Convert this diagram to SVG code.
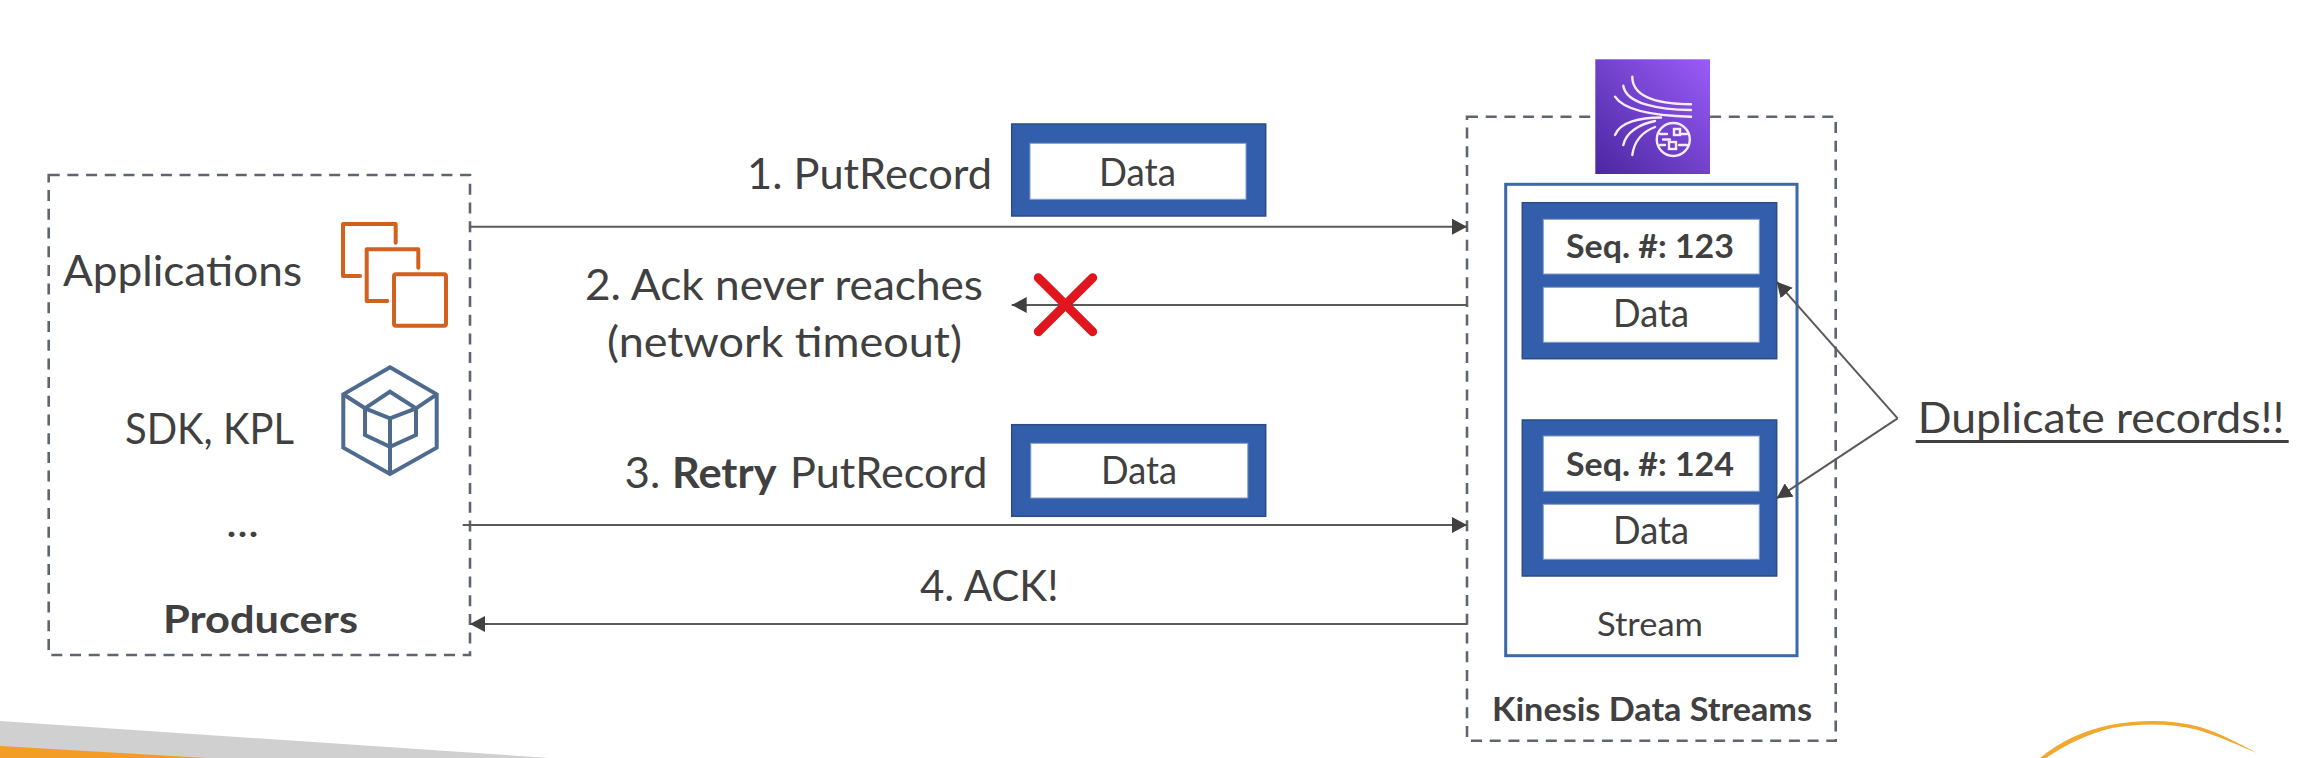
<svg xmlns="http://www.w3.org/2000/svg" width="2306" height="758" viewBox="0 0 2306 758">
<style>
text{font-family:"Lato","Noto Sans",sans-serif;fill:#404040;font-size:42px}
.b{font-weight:700}
.s32{font-size:32px}
.s38{font-size:38px}
.dash{fill:none;stroke:#5c6673;stroke-width:2.6;stroke-dasharray:11 7.7}
.stream{fill:#fff;stroke:#3a68a8;stroke-width:3}
.rec{fill:#335eab;stroke:#2b4c85;stroke-width:1.5}
.in{fill:#fff;stroke:#7f9cc8;stroke-width:1}
.con{fill:none;stroke:#5a5a5a;stroke-width:2;marker-end:url(#ah)}
.orange{fill:none;stroke:#d2601f;stroke-width:4;stroke-linejoin:round;stroke-linecap:round}
.hex{fill:none;stroke:#4f6a8f;stroke-width:4;stroke-linejoin:miter}
.w{fill:none;stroke:#f4ecfd;stroke-width:2.4;stroke-linecap:round}
</style>
<defs>
<marker id="ah" markerUnits="userSpaceOnUse" markerWidth="16" markerHeight="16" refX="15" refY="8" orient="auto"><path d="M0 0L15 8L0 16Z" fill="#404040"/></marker>
<linearGradient id="kg" x1="0" y1="1" x2="1" y2="0"><stop offset="0" stop-color="#4a27a0"/><stop offset="1" stop-color="#9a5cf8"/></linearGradient>
</defs>
<rect width="2306" height="758" fill="#fff"/>
<g id="background">
<path d="M0 721L549 758H0Z" fill="#d0d0d0"/>
<path d="M0 746L207 758H0Z" fill="#f39c26"/>
<path d="M2040 758C2060 741 2085 730 2110 725C2140 720 2170 719 2200 727C2220 733 2240 744 2257 753C2238 745 2218 736 2198 730C2170 723 2140 723 2112 728C2090 733 2065 745 2046 758Z" fill="#f0a830"/>
</g>
<g id="producers">
<rect class="dash" x="48.7" y="175" width="421.3" height="480"/>
<text x="63" y="286" textLength="239" lengthAdjust="spacingAndGlyphs">Applications</text>
<text x="125" y="444" textLength="169" lengthAdjust="spacingAndGlyphs">SDK, KPL</text>
<text x="226" y="537" textLength="33" lengthAdjust="spacingAndGlyphs">...</text>
<text class="b s38" x="163" y="633" textLength="195" lengthAdjust="spacingAndGlyphs">Producers</text>
<g id="applications-icon">
<path class="orange" d="M395.7 242.7V224H343V276H360"/>
<path class="orange" d="M418.3 267.7V249.3H366.7V301H387.3"/>
<rect class="orange" x="394" y="274.3" width="52" height="51.4" rx="2"/>
</g>
<g id="sdk-icon">
<path class="hex" d="M390 367.3L436.7 394.3V447.7L390 474L343.3 447.7V394.3Z"/>
<path class="hex" d="M390 391.7L416 408.3V435L390 446.7L365 435V408.3Z"/>
<path class="hex" d="M365 408.3L390 418.3L416 408.3M390 418.3V474M343.3 394.3L365 408.3M436.7 394.3L416 408.3"/>
</g>
</g>
<g id="kinesis">
<rect class="dash" x="1467" y="116.7" width="368.7" height="624"/>
<g id="kinesis-icon">
<rect x="1595.3" y="59.3" width="114.7" height="114.7" fill="url(#kg)"/>
<path class="w" d="M1632.3 76.7C1632.3 98 1660 104 1691 104.3"/>
<path class="w" d="M1623.3 85.7C1626 104 1660 110 1691 110"/>
<path class="w" d="M1615 96.7C1625 112 1660 116 1691 116.7"/>
<path class="w" d="M1661 117.5C1640 117.5 1620 122 1615 135"/>
<path class="w" d="M1655 121C1640 124 1626 132 1623.3 145"/>
<path class="w" d="M1655 127C1642 132 1634 142 1632.3 155"/>
<circle class="w" cx="1673.3" cy="139.5" r="16.5"/>
<path class="w" stroke-width="2" d="M1660 134H1667M1660 145H1665M1680 134H1687M1679 145H1687M1663 139.5H1670"/>
<rect class="w" x="1669" y="142" width="7" height="7"/>
<rect class="w" x="1674" y="129" width="6" height="6"/>
</g>
<text class="b s32" x="1492" y="721" textLength="320" lengthAdjust="spacingAndGlyphs">Kinesis Data Streams</text>
</g>
<g id="stream">
<rect class="stream" x="1505.7" y="184.3" width="291.3" height="471.4"/>
<text class="s32" x="1597" y="636" textLength="106" lengthAdjust="spacingAndGlyphs">Stream</text>
</g>
<g id="record-123">
<rect class="rec" x="1522.3" y="202.7" width="254.4" height="156"/>
<rect class="in" x="1543.3" y="219.3" width="216" height="54.7"/>
<rect class="in" x="1543.3" y="287.3" width="216" height="55"/>
<text class="b s32" x="1566" y="258" textLength="168" lengthAdjust="spacingAndGlyphs">Seq. #: 123</text>
<text class="s38" x="1613" y="327" textLength="76" lengthAdjust="spacingAndGlyphs">Data</text>
</g>
<g id="record-124">
<rect class="rec" x="1522.3" y="420" width="254.4" height="156"/>
<rect class="in" x="1543.3" y="436" width="216" height="55.3"/>
<rect class="in" x="1543.3" y="504.3" width="216" height="55"/>
<text class="b s32" x="1566" y="476" textLength="168" lengthAdjust="spacingAndGlyphs">Seq. #: 124</text>
<text class="s38" x="1613" y="544.3" textLength="76" lengthAdjust="spacingAndGlyphs">Data</text>
</g>
<g id="data-1">
<rect class="rec" x="1011.7" y="124" width="254" height="92"/>
<rect class="in" x="1030" y="143.3" width="216" height="56"/>
<text class="s38" x="1099" y="186" textLength="77" lengthAdjust="spacingAndGlyphs">Data</text>
</g>
<g id="data-2">
<rect class="rec" x="1011.7" y="424.7" width="254" height="91.6"/>
<rect class="in" x="1030.8" y="443.3" width="217" height="54.7"/>
<text class="s38" x="1101" y="484" textLength="76" lengthAdjust="spacingAndGlyphs">Data</text>
</g>
<g id="connectors">
<line class="con" x1="470" y1="226.7" x2="1467" y2="226.7"/>
<line class="con" x1="1467" y1="305" x2="1011.7" y2="305"/>
<line class="con" x1="462.7" y1="525" x2="1467" y2="525"/>
<line class="con" x1="1467" y1="624" x2="470" y2="624"/>
<line class="con" x1="1897.6" y1="418.3" x2="1776.7" y2="281.7"/>
<line class="con" x1="1897.6" y1="418.3" x2="1776.7" y2="498.3"/>
</g>
<g id="labels">
<text x="747" y="189" textLength="245" lengthAdjust="spacingAndGlyphs">1. PutRecord</text>
<text x="585" y="300" textLength="398" lengthAdjust="spacingAndGlyphs">2. Ack never reaches</text>
<text x="607" y="357" textLength="355" lengthAdjust="spacingAndGlyphs">(network timeout)</text>
<text x="624.6" y="488.3"><tspan textLength="47" lengthAdjust="spacingAndGlyphs">3. </tspan><tspan class="b" x="672" textLength="114" lengthAdjust="spacingAndGlyphs">Retry </tspan><tspan x="790" textLength="197.5" lengthAdjust="spacingAndGlyphs">PutRecord</tspan></text>
<text x="920" y="600.7" textLength="138.5" lengthAdjust="spacingAndGlyphs">4. ACK!</text>
<text x="1917.8" y="433.3" textLength="366.6" lengthAdjust="spacingAndGlyphs">Duplicate records!!</text>
<line x1="1915.7" y1="441.5" x2="2288.7" y2="441.5" stroke="#404040" stroke-width="3"/>
</g>
<g id="failed-x">
<path d="M1038.3 277.7L1092.7 331.7M1092.7 277.7L1038.3 331.7" fill="none" stroke="#e0161f" stroke-width="9" stroke-linecap="round"/>
</g>
</svg>
